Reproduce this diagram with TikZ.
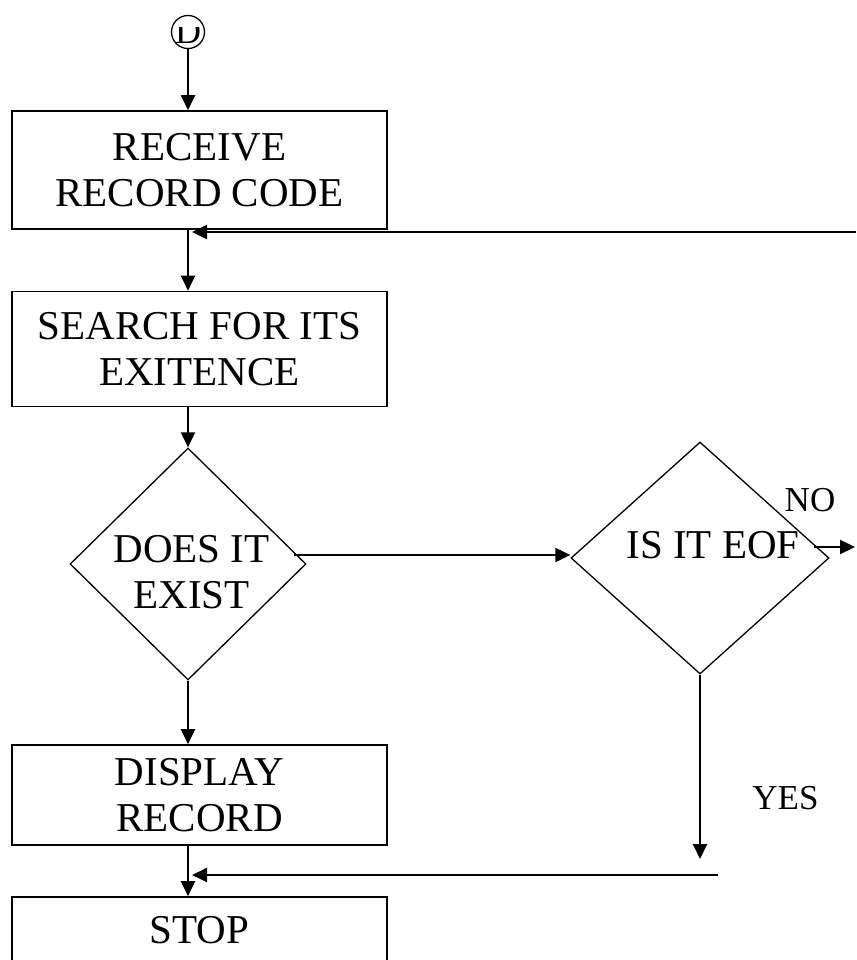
\documentclass[tikz,border=0pt]{standalone}
\usepackage{fontspec}
\setmainfont{Liberation Serif}
\usetikzlibrary{arrows.meta,shapes.geometric}
\begin{document}
\begin{tikzpicture}[x=1pt,y=-1pt,
  box/.style={draw,line width=1.6pt,rectangle,minimum width=375pt,inner sep=0pt,align=center,font=\fontsize{41}{46}\selectfont},
  dia/.style={draw,diamond,line width=1.3pt,inner sep=0pt},
  txt/.style={align=center,font=\fontsize{41}{46}\selectfont,inner sep=0pt},
  small/.style={font=\fontsize{35}{40}\selectfont,inner sep=0pt},
  conn/.style={line width=2pt,-{Triangle[length=15pt,width=14pt]}}]
\useasboundingbox (0,0) rectangle (856,960);
% start connector
\node[circle,draw,line width=1.3pt,minimum size=33pt,inner sep=0pt] (c) at (188,32) {};
\begin{scope}
  \clip (165,28) rectangle (212,47);
  \node[font=\fontsize{36}{40}\selectfont,inner sep=0pt,anchor=base] (cd) at (188,44) {D};
\end{scope}
% boxes
\node[box,minimum height=118pt] (b1) at (199.5,170) {RECEIVE\\RECORD CODE};
\node[box,minimum height=115pt] (b2) at (199.5,349) {SEARCH FOR ITS\\EXITENCE};
\node[box,minimum height=100pt] (b3) at (199.5,795) {DISPLAY\\RECORD};
\node[box,minimum height=66pt] (b4) at (199.5,930) {STOP};
% decisions
\node[dia,minimum width=236pt,minimum height=232pt] (d1) at (188,564) {};
\node[txt] (d1t) at (191.5,572) {DOES IT\\EXIST};
\node[dia,minimum width=258pt,minimum height=232pt] (d2) at (700,558) {};
\node[txt] (d2t) at (713,545) {IS IT EOF};
% labels
\node[small,anchor=base] (no) at (810,511) {NO};
\node[small,anchor=base] (yes) at (785.5,809) {YES};
% free ends
\coordinate (loopR) at (856,232);
\coordinate (noEnd) at (855,547);
\coordinate (yesEnd) at (700,859);
\coordinate (retR) at (718,875);
\coordinate (a1) at ([shift={(-13pt,9pt)}]d1.east);
\coordinate (a2) at ([shift={(-16pt,11pt)}]d2.east);
% connectors
\draw[conn] (c.south) -- (c |- b1.north);
\draw[conn] (b1.south -| c) -- (b2.north -| c);
\draw[conn] (loopR) -- ([xshift=4pt]loopR -| c);
\draw[conn] (b2.south -| c) -- (d1.north);
\draw[conn] (d1.south) -- (b3.north -| d1.south);
\draw[conn] (a1) -- (a1 -| d2.west);
\draw[conn] (a2) -- (noEnd);
\draw[conn] (d2.south) -- (yesEnd);
\draw[conn] (retR) -- ([xshift=4pt]retR -| c);
\draw[conn] (b3.south -| c) -- (b4.north -| c);
\end{tikzpicture}
\end{document}
